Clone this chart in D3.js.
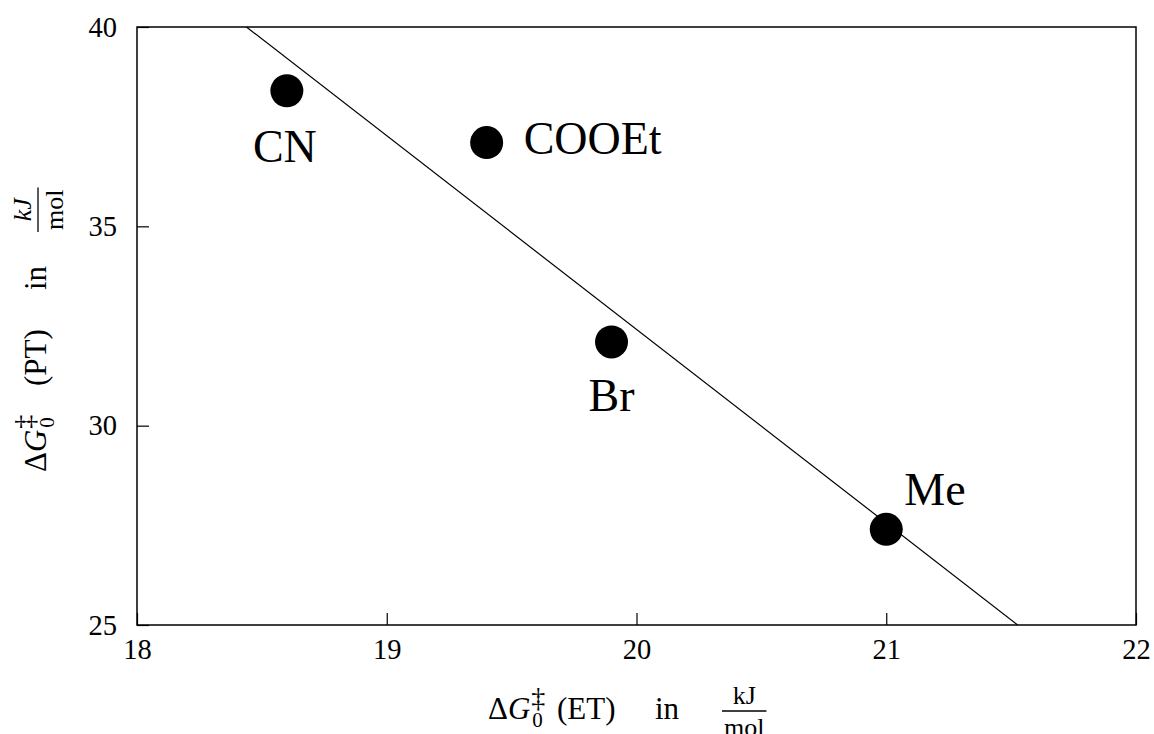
<!DOCTYPE html>
<html>
<head>
<meta charset="utf-8">
<script src="https://cdn.jsdelivr.net/npm/d3@7"></script>
<style>
  html, body { margin: 0; padding: 0; background: #fff; }
  svg { display: block; }
  text { font-family: "Liberation Serif", "Times New Roman", serif; fill: #000; }
</style>
</head>
<body>
<svg id="chart" width="1154" height="734"></svg>
<script>
// Substituent labels and activation barriers (kJ/mol)
const substituents = ["CN", "COOEt", "Br", "Me"];
const etBarrier = [18.6, 19.4, 19.9, 21.0];   // ΔG0‡ (ET)
const ptBarrier = [38.4, 37.1, 32.1, 27.4];   // ΔG0‡ (PT)
const xTicks = [18, 19, 20, 21, 22];
const yTicks = [25, 30, 35, 40];
const xDomain = [18, 22];
const yDomain = [25, 40];

const W = 1154, H = 734;
const margin = { left: 137, right: 18, top: 27, bottom: 109 };
const svg = d3.select("#chart");

const x = d3.scaleLinear().domain(xDomain).range([margin.left, W - margin.right]);
const y = d3.scaleLinear().domain(yDomain).range([H - margin.bottom, margin.top]);

// Axes with inward ticks
const xAxis = svg.append("g")
  .attr("transform", `translate(0,${y(yDomain[0])})`)
  .call(d3.axisBottom(x).tickValues(xTicks).tickFormat(d3.format("d"))
    .tickSizeInner(-12).tickSizeOuter(0).tickPadding(14));
const yAxis = svg.append("g")
  .attr("transform", `translate(${x(xDomain[0])},0)`)
  .call(d3.axisLeft(y).tickValues(yTicks).tickFormat(d3.format("d"))
    .tickSizeInner(-12).tickSizeOuter(0).tickPadding(20));
[xAxis, yAxis].forEach(a => {
  a.attr("font-family", null);
  a.select(".domain").remove();
  a.selectAll(".tick line").attr("stroke", "#000").attr("stroke-width", 1.2);
  a.selectAll(".tick text").style("font-size", "28.5px").attr("fill", "#000");
});

// Plot frame
svg.append("rect")
  .attr("x", x(xDomain[0])).attr("y", y(yDomain[1]))
  .attr("width", x(xDomain[1]) - x(xDomain[0]))
  .attr("height", y(yDomain[0]) - y(yDomain[1]))
  .attr("fill", "none").attr("stroke", "#000").attr("stroke-width", 1.5);

// Least-squares fit through the four substituents
const mx = d3.mean(etBarrier), my = d3.mean(ptBarrier);
const sxy = d3.sum(etBarrier, (v, i) => (v - mx) * (ptBarrier[i] - my));
const sxx = d3.sum(etBarrier, v => (v - mx) * (v - mx));
const slope = sxy / sxx, intercept = my - slope * mx;
const xAtY = v => (v - intercept) / slope;
const fitX = [Math.max(xDomain[0], xAtY(yDomain[1])), Math.min(xDomain[1], xAtY(yDomain[0]))];

svg.append("line")
  .attr("x1", x(fitX[0])).attr("y1", y(slope * fitX[0] + intercept))
  .attr("x2", x(fitX[1])).attr("y2", y(slope * fitX[1] + intercept))
  .attr("stroke", "#000").attr("stroke-width", 1.2);

// Data points
const pts = substituents.map((s, i) => ({ s, et: etBarrier[i], pt: ptBarrier[i] }));
svg.append("g").selectAll("circle").data(pts).join("circle")
  .attr("cx", d => x(d.et)).attr("cy", d => y(d.pt)).attr("r", 16.5).attr("fill", "#000");

// Point labels
const placement = {
  CN:    { dx: -2, dy: 71, anchor: "middle" },
  COOEt: { dx: 37, dy: 11, anchor: "start" },
  Br:    { dx: 0,  dy: 69, anchor: "middle" },
  Me:    { dx: 18, dy: -24, anchor: "start" }
};
svg.append("g").selectAll("text").data(pts).join("text")
  .attr("x", d => x(d.et) + placement[d.s].dx)
  .attr("y", d => y(d.pt) + placement[d.s].dy)
  .attr("text-anchor", d => placement[d.s].anchor)
  .style("font-size", "46px")
  .text(d => d.s);

// Math-style axis title: ΔG‡0 (label)  in  kJ/mol
// stops = start offsets of "(label)", "in" and the fraction along the baseline
function mathTitle(g, paren, italicUnit, stops) {
  const big = 31, sup = 28, sub = 21, frac = 26;
  let cx = 0;
  const put = (txt, size, at, opts = {}) => {
    const t = g.append("text").attr("x", at).attr("y", opts.y || 0)
      .style("font-size", size + "px").text(txt);
    if (opts.italic) t.style("font-style", "italic");
    return t;
  };
  let t = put("Δ", big, cx); cx += t.node().getComputedTextLength();
  t = put("G", big, cx, { italic: true }); cx += t.node().getComputedTextLength() + 1;
  put("‡", sup, cx, { y: -12 });
  put("0", sub, cx + 1, { y: 8 });
  put(paren, big, stops[0]);
  put("in", big, stops[1]);
  // fraction
  const num = g.append("text").attr("y", -15).style("font-size", frac + "px")
    .attr("text-anchor", "middle").text("kJ");
  if (italicUnit) num.style("font-style", "italic");
  const den = g.append("text").attr("y", 17).style("font-size", frac + "px")
    .attr("text-anchor", "middle").text("mol");
  const wNum = num.node().getComputedTextLength(), wDen = den.node().getComputedTextLength();
  const wBar = Math.max(wNum, wDen) + 4;
  const fx = stops[2];
  num.attr("x", fx + wBar / 2);
  den.attr("x", fx + wBar / 2);
  g.append("line").attr("x1", fx).attr("x2", fx + wBar).attr("y1", -8).attr("y2", -8)
    .attr("stroke", "#000").attr("stroke-width", 1.3);
}

mathTitle(svg.append("g").attr("transform", "translate(488,719)"), "(ET)", false, [69, 167, 234]);
mathTitle(svg.append("g").attr("transform", "translate(46,472) rotate(-90)"), "(PT)", true, [86, 182, 240]);
</script>
</body>
</html>
